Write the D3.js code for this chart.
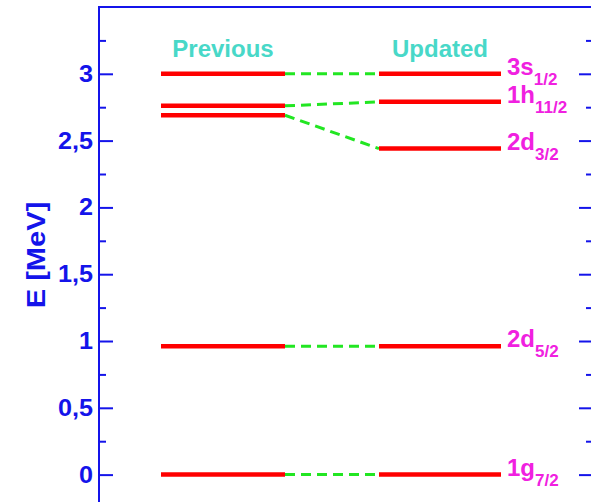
<!DOCTYPE html>
<html>
<head>
<meta charset="utf-8">
<script src="https://cdn.jsdelivr.net/npm/d3@7"></script>
<style>
  body { margin: 0; background: #fff; }
  text { font-family: "Liberation Sans", Arial, sans-serif; font-weight: bold; }
</style>
</head>
<body>
<svg id="chart" width="591" height="502"></svg>
<script>
// level data (MeV)
const states = ["3s", "1h", "2d32", "2d52", "1g"];
const labelMain = ["3s", "1h", "2d", "2d", "1g"];
const labelSub = ["1/2", "11/2", "3/2", "5/2", "7/2"];
const previous = [3.0, 2.76, 2.69, 0.96, 0.0];
const updated = [3.0, 2.79, 2.44, 0.96, 0.0];
const columns = ["Previous", "Updated"];
const majorTicks = [0, 0.5, 1, 1.5, 2, 2.5, 3];
const minorTicks = [0.25, 0.75, 1.25, 1.75, 2.25, 2.75, 3.25];

const svg = d3.select("#chart");
const blue = "#1414ea";

const y = d3.scaleLinear().domain([-0.19, 3.5]).range([500, 7]);
const colX = { Previous: [161, 285], Updated: [379, 501] };

const fmt = d => String(d).replace(".", ",");

// frame
svg.append("line").attr("x1", 98).attr("x2", 591).attr("y1", 7).attr("y2", 7)
  .attr("stroke", blue).attr("stroke-width", 2);

const left = svg.append("g").attr("transform", "translate(99,0)");
left.call(d3.axisRight(y).tickValues(majorTicks).tickSize(14).tickFormat(""));
left.append("g").call(d3.axisRight(y).tickValues(minorTicks).tickSize(7).tickFormat(""));
left.selectAll(".domain").remove();
left.selectAll("line").attr("stroke", blue).attr("stroke-width", 2);
left.append("line").attr("y1", 6).attr("y2", 502).attr("stroke", blue).attr("stroke-width", 2);
left.selectAll(".lab").data(majorTicks).enter().append("text")
  .attr("transform", d => `translate(-6,${y(d) + 8}) scale(1.05,1)`)
  .attr("text-anchor", "end").attr("fill", blue).attr("font-size", 24)
  .text(fmt);

const right = svg.append("g").attr("transform", "translate(591,0)");
right.call(d3.axisLeft(y).tickValues(majorTicks).tickSize(12).tickFormat(""));
right.append("g").call(d3.axisLeft(y).tickValues(minorTicks).tickSize(5).tickFormat(""));
right.selectAll(".domain").remove();
right.selectAll("line").attr("stroke", blue).attr("stroke-width", 2);

svg.append("text")
  .attr("transform", "translate(45,255) rotate(-90) scale(1.12,1)")
  .attr("text-anchor", "middle").attr("fill", blue).attr("font-size", 26)
  .text("E [MeV]");

// column headers
svg.selectAll(".head").data(columns).enter().append("text")
  .attr("x", d => (colX[d][0] + colX[d][1]) / 2)
  .attr("y", 57)
  .attr("text-anchor", "middle").attr("fill", "#48d8c8").attr("font-size", 24)
  .text(d => d);

// connectors
svg.selectAll(".conn").data(states).enter().append("line")
  .attr("x1", colX.Previous[1]).attr("x2", colX.Updated[0])
  .attr("y1", (d, i) => y(previous[i])).attr("y2", (d, i) => y(updated[i]))
  .attr("stroke", "#22e622").attr("stroke-width", 3).attr("stroke-dasharray", "10,6");

// levels
[["Previous", previous], ["Updated", updated]].forEach(([col, vals]) => {
  svg.selectAll(".lvl-" + col).data(vals).enter().append("line")
    .attr("x1", colX[col][0]).attr("x2", colX[col][1])
    .attr("y1", d => y(d)).attr("y2", d => y(d))
    .attr("stroke", "#ff0000").attr("stroke-width", 4.5);
});

// labels
const lab = svg.selectAll(".slab").data(states).enter().append("text")
  .attr("x", 507).attr("y", (d, i) => y(updated[i]) + 1)
  .attr("fill", "#f020e0").attr("font-size", 24);
lab.append("tspan").text((d, i) => labelMain[i]);
lab.append("tspan").attr("dy", 10).attr("font-size", 17).text((d, i) => labelSub[i]);
</script>
</body>
</html>
